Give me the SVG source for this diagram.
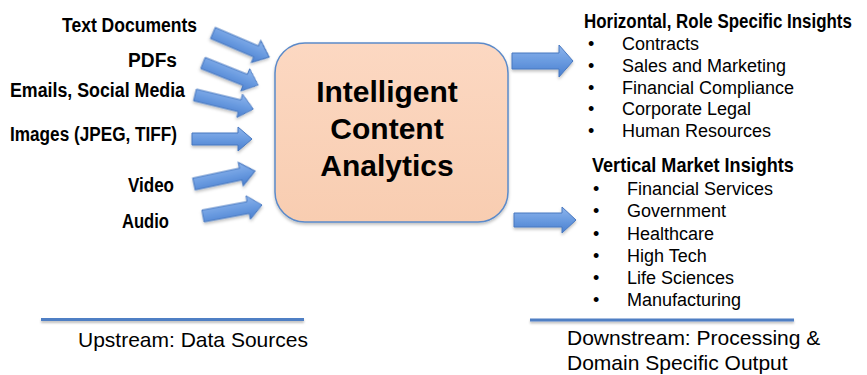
<svg xmlns="http://www.w3.org/2000/svg" width="867" height="375" viewBox="0 0 867 375">
<defs>
<linearGradient id="ag" x1="0" y1="0" x2="0" y2="1">
<stop offset="0" stop-color="#8db4ec"/>
<stop offset="0.5" stop-color="#6a9be0"/>
<stop offset="1" stop-color="#4a7fcf"/>
</linearGradient>
<linearGradient id="bg" x1="0" y1="0" x2="0" y2="1">
<stop offset="0" stop-color="#fcd8c2"/>
<stop offset="1" stop-color="#f8cdb1"/>
</linearGradient>
<filter id="sh" x="-20%" y="-20%" width="140%" height="160%">
<feDropShadow dx="0" dy="2" stdDeviation="1.5" flood-color="#000" flood-opacity="0.25"/>
</filter>
<filter id="lsh" filterUnits="userSpaceOnUse" x="0" y="300" width="867" height="40">
<feDropShadow dx="0" dy="2" stdDeviation="1.2" flood-color="#000" flood-opacity="0.25"/>
</filter>
<path id="la" d="M0,-6 L46,-6 L46,-12 L60,0 L46,12 L46,6 L0,6 Z"/>
</defs>
<style>
.arr{fill:url(#ag);stroke:#4878c0;stroke-width:1;filter:url(#sh)}
.src{font-family:"Liberation Sans",Arial,sans-serif;font-weight:bold;font-size:20px;fill:#000}
.hd{font-family:"Liberation Sans",Arial,sans-serif;font-weight:bold;font-size:19.5px;fill:#000}
.it{font-family:"Liberation Sans",Arial,sans-serif;font-size:18px;fill:#000}
.ctr{font-family:"Liberation Sans",Arial,sans-serif;font-weight:bold;font-size:30px;fill:#000}
.cap{font-family:"Liberation Sans",Arial,sans-serif;font-size:21px;fill:#000}
.rule{fill:#4f7fc4;filter:url(#lsh)}
</style>
<rect width="867" height="375" fill="#fff"/>

<g id="sources">
<text class="src" x="197" y="32" text-anchor="end" textLength="135" lengthAdjust="spacingAndGlyphs">Text Documents</text>
<text class="src" x="177" y="67" text-anchor="end" textLength="49" lengthAdjust="spacingAndGlyphs">PDFs</text>
<text class="src" x="185" y="97" text-anchor="end" textLength="175" lengthAdjust="spacingAndGlyphs">Emails, Social Media</text>
<text class="src" x="177" y="141" text-anchor="end" textLength="167" lengthAdjust="spacingAndGlyphs">Images (JPEG, TIFF)</text>
<text class="src" x="174" y="192" text-anchor="end" textLength="46" lengthAdjust="spacingAndGlyphs">Video</text>
<text class="src" x="169" y="228" text-anchor="end" textLength="47" lengthAdjust="spacingAndGlyphs">Audio</text>
</g>

<g id="connectors">
<use href="#la" class="arr" transform="translate(213,33) rotate(23.2) scale(1.02,1)"/>
<use href="#la" class="arr" transform="translate(203,63) rotate(21.8) scale(0.99,1)"/>
<use href="#la" class="arr" transform="translate(195,95) rotate(13.6)"/>
<use href="#la" class="arr" transform="translate(192,139)"/>
<use href="#la" class="arr" transform="translate(194,184) rotate(-12) scale(1.04,1)"/>
<use href="#la" class="arr" transform="translate(203,216) rotate(-10.6)"/>
<path class="arr" d="M512,53 L559,53 L559,45 L573,61 L559,77 L559,69 L512,69 Z"/>
<path class="arr" d="M514,213 L562,213 L562,207 L576,220 L562,233 L562,227 L514,227 Z"/>
</g>

<g id="core">
<rect x="275" y="43" width="233" height="179" rx="30" ry="30" fill="url(#bg)" stroke="#5b8ac9" stroke-width="1.5" filter="url(#sh)"/>
<text class="ctr" x="387" y="102" text-anchor="middle">Intelligent</text>
<text class="ctr" x="387" y="139" text-anchor="middle">Content</text>
<text class="ctr" x="387" y="176" text-anchor="middle">Analytics</text>
</g>

<g id="horizontal">
<text class="hd" transform="translate(584,28) scale(0.868,1)">Horizontal, Role Specific Insights</text>
<text class="it" x="588" y="50">•</text><text class="it" x="622" y="50">Contracts</text>
<text class="it" x="588" y="72">•</text><text class="it" x="622" y="72">Sales and Marketing</text>
<text class="it" x="588" y="93.5">•</text><text class="it" x="622" y="93.5">Financial Compliance</text>
<text class="it" x="588" y="115">•</text><text class="it" x="622" y="115">Corporate Legal</text>
<text class="it" x="588" y="136.5">•</text><text class="it" x="622" y="136.5">Human Resources</text>
</g>

<g id="vertical">
<text class="hd" transform="translate(592,172) scale(0.927,1)">Vertical Market Insights</text>
<text class="it" x="593" y="195">•</text><text class="it" x="627" y="195">Financial Services</text>
<text class="it" x="593" y="217">•</text><text class="it" x="627" y="217">Government</text>
<text class="it" x="593" y="239.5">•</text><text class="it" x="627" y="239.5">Healthcare</text>
<text class="it" x="593" y="262">•</text><text class="it" x="627" y="262">High Tech</text>
<text class="it" x="593" y="284">•</text><text class="it" x="627" y="284">Life Sciences</text>
<text class="it" x="593" y="305.5">•</text><text class="it" x="627" y="305.5">Manufacturing</text>
</g>

<g id="upstream">
<rect class="rule" x="41" y="318" width="263" height="3"/>
<text class="cap" x="78" y="347">Upstream: Data Sources</text>
</g>

<g id="downstream">
<rect class="rule" x="530" y="318.5" width="264" height="3"/>
<text class="cap" x="567" y="345">Downstream: Processing &amp;</text>
<text class="cap" x="567" y="370">Domain Specific Output</text>
</g>
</svg>
